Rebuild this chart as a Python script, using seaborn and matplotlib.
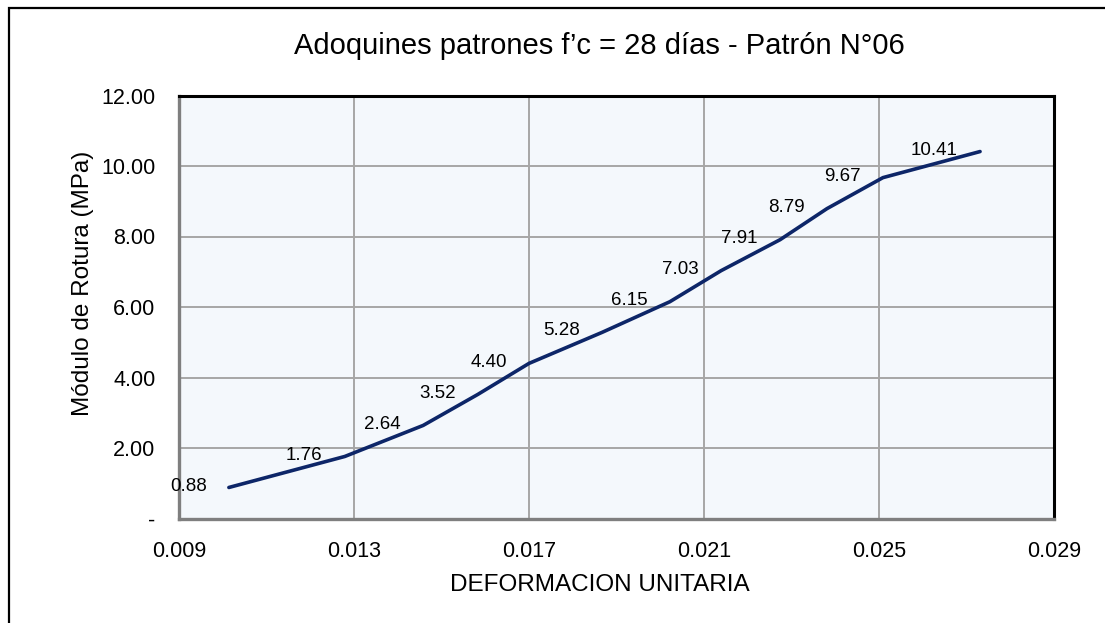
import matplotlib
matplotlib.use("Agg")
import matplotlib.pyplot as plt
import matplotlib.patches as mpatches
import pandas as pd
import seaborn as sns

# valores
deformacion = [0.01014, 0.01279, 0.01458, 0.01583, 0.01700, 0.01867,
               0.02022, 0.02139, 0.02274, 0.02381, 0.02509, 0.02731]
modulo = [0.88, 1.76, 2.64, 3.52, 4.40, 5.28, 6.15, 7.03, 7.91, 8.79, 9.67, 10.41]
x_ticks = [0.009, 0.013, 0.017, 0.021, 0.025, 0.029]
y_ticks = [0, 2, 4, 6, 8, 10, 12]

titulo = "Adoquines patrones f\u2019c = 28 días - Patrón N°06"
x_label = "DEFORMACION UNITARIA"
y_label = "Módulo de Rotura (MPa)"

df = pd.DataFrame({"deformacion": deformacion, "modulo": modulo})

sns.set_style("white")
plt.rcParams["font.family"] = ["Liberation Sans", "DejaVu Sans"]
plt.rcParams["text.color"] = "black"

fig = plt.figure(figsize=(11.05, 6.23), dpi=100)
ax = fig.add_axes([179 / 1105, 1 - 518.5 / 623, 875 / 1105, 423 / 623])
ax.set_facecolor("#F4F8FC")

sns.lineplot(data=df, x="deformacion", y="modulo", ax=ax,
             color="#0D2668", linewidth=2.6, sort=False)

for xv, yv in zip(deformacion, modulo):
    ax.annotate(f"{yv:.2f}", (xv, yv), xytext=(-16, 1), textcoords="offset points",
                ha="right", va="center", fontsize=13.5, color="black")

ax.set_xlim(0.009, 0.029)
ax.set_ylim(0, 12)
ax.set_xticks(x_ticks)
ax.set_yticks(y_ticks)
ax.set_xticklabels([f"{t:.3f}" for t in x_ticks])
ax.set_yticklabels(["-" if t == 0 else f"{t:.2f}" for t in y_ticks])
ax.tick_params(axis="both", labelsize=15.5, length=0, colors="black")
ax.tick_params(axis="y", pad=17)
ax.tick_params(axis="x", pad=16)
ax.grid(True, color="#A6A6A6", linewidth=1.4)
ax.set_axisbelow(True)
ax.set_xlabel("")
ax.set_ylabel("")

for side in ["top", "right"]:
    ax.spines[side].set_color("black")
    ax.spines[side].set_linewidth(2.2)
for side in ["left", "bottom"]:
    ax.spines[side].set_color("#7F7F7F")
    ax.spines[side].set_linewidth(2.4)

fig.text(599 / 1105, 1 - 46 / 623, titulo, ha="center", va="center", fontsize=21)
fig.text(600 / 1105, 1 - 585 / 623, x_label, ha="center", va="center", fontsize=17.5)
fig.text(83 / 1105, 1 - 283 / 623, y_label, ha="center", va="center",
         rotation=90, fontsize=17.5)

# borde del area del grafico
borde = mpatches.Rectangle((9 / 1105, -0.1), 1.2, 1 - 8 / 623 + 0.1,
                           transform=fig.transFigure, fill=False,
                           edgecolor="black", linewidth=1.6)
fig.patches.append(borde)

fig.savefig("out.png", dpi=100)
